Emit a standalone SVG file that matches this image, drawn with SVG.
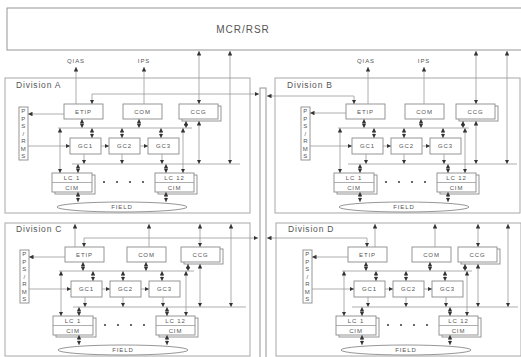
<svg xmlns="http://www.w3.org/2000/svg" width="521" height="357" viewBox="0 0 521 357">
<defs>
<marker id="ah" viewBox="0 0 5 5" refX="5" refY="2.5" markerWidth="4.5" markerHeight="4.5" markerUnits="userSpaceOnUse" orient="auto-start-reverse"><path d="M0,0 L5,2.5 L0,5 z" fill="#333"/></marker>
<style>
.bg{fill:#fff}
.box{fill:#fff;stroke:#8a8a8a;stroke-width:0.9}
.div{fill:none;stroke:#a8a8a8;stroke-width:1}
.ln{fill:none;stroke:#999;stroke-width:0.8}
.b{marker-start:url(#ah);marker-end:url(#ah)}
.e{marker-end:url(#ah)}
.t{font-family:"Liberation Sans",Arial,sans-serif;fill:#555}
.nt{font-size:6px;letter-spacing:0.9px;text-anchor:middle}
.lbl{font-size:8.5px;letter-spacing:0.8px}
.mcr{font-size:10px;letter-spacing:1px;text-anchor:middle}
.dot{fill:#444}
</style>
</defs>
<rect class="bg" x="0" y="0" width="521" height="357"/>

<!-- MCR/RSR -->
<g id="mcr">
<rect class="box" x="7" y="8" width="520" height="42"/>
<text class="t mcr" x="243" y="33">MCR/RSR</text>
</g>

<!-- central bus -->
<g id="bus">
<rect class="box" x="260" y="88" width="6" height="275"/>
</g>

<!-- division frames -->
<g id="divA"><rect class="div" x="5" y="78" width="245" height="135"/><text class="t lbl" x="16" y="88">Division A</text></g>
<g id="divB"><rect class="div" x="275" y="78" width="245" height="135"/><text class="t lbl" x="287" y="88">Division B</text></g>
<g id="divC"><rect class="div" x="5" y="223" width="245" height="133"/><text class="t lbl" x="16" y="232">Division C</text></g>
<g id="divD"><rect class="div" x="276" y="223" width="245" height="133"/><text class="t lbl" x="288" y="232">Division D</text></g>

<!-- external labels -->
<text class="t nt" x="76" y="63">QIAS</text>
<text class="t nt" x="144" y="63">IPS</text>
<text class="t nt" x="366" y="63">QIAS</text>
<text class="t nt" x="424" y="63">IPS</text>

<!-- ===== Division A nodes ===== -->
<g transform="translate(0,0)">
<g id="A-etip"><rect class="box" x="64" y="104" width="39" height="15"/><text class="t nt" x="83.5" y="113.8">ETIP</text></g>
<g id="A-com"><rect class="box" x="123" y="104" width="39" height="15"/><text class="t nt" x="142.5" y="113.8">COM</text></g>
<g id="A-pps"><rect class="box" x="19" y="107" width="9" height="53"/><text class="t nt" x="23.8"><tspan x="23.8" y="113">P</tspan><tspan x="23.8" y="120.5">P</tspan><tspan x="23.8" y="128">S</tspan><tspan x="23.8" y="135.5">/</tspan><tspan x="23.8" y="143">R</tspan><tspan x="23.8" y="150.5">M</tspan><tspan x="23.8" y="158">S</tspan></text></g>
<g id="A-gc1"><rect class="box" x="70" y="138" width="31" height="16"/><text class="t nt" x="85.5" y="148.2">GC1</text></g>
<g id="A-gc2"><rect class="box" x="109" y="138" width="31" height="16"/><text class="t nt" x="124.5" y="148.2">GC2</text></g>
<g id="A-gc3"><rect class="box" x="148" y="138" width="31" height="16"/><text class="t nt" x="163.5" y="148.2">GC3</text></g>
<g id="A-lc1"><rect class="box" x="55" y="175" width="40" height="19"/><rect class="box" x="52" y="173" width="40" height="19"/><line class="ln" x1="52" y1="182.5" x2="92" y2="182.5"/><text class="t nt" x="72" y="180.3">LC 1</text><text class="t nt" x="72" y="189.8">CIM</text></g>
<g id="A-lc12"><rect class="box" x="158" y="175" width="39" height="19"/><rect class="box" x="155" y="173" width="39" height="19"/><line class="ln" x1="155" y1="182.5" x2="194" y2="182.5"/><text class="t nt" x="174.5" y="180.3">LC 12</text><text class="t nt" x="174.5" y="189.8">CIM</text></g>
<g id="A-field"><ellipse class="box" cx="122" cy="207" rx="65" ry="5"/><text class="t nt" x="122" y="209.2">FIELD</text></g>
<g id="A-dots"><circle class="dot" cx="104" cy="182" r="1.1"/><circle class="dot" cx="117" cy="182" r="1.1"/><circle class="dot" cx="130" cy="182" r="1.1"/><circle class="dot" cx="143" cy="182" r="1.1"/></g>
</g>
<g transform="translate(0,0)">
<g id="A-ccg"><rect class="box" x="182" y="106" width="39" height="15"/><rect class="box" x="179" y="104" width="39" height="15"/><text class="t nt" x="198.5" y="113.8">CCG</text></g>
</g>

<!-- ===== Division B nodes ===== -->
<g transform="translate(282,0)">
<g id="B-etip"><rect class="box" x="64" y="104" width="39" height="15"/><text class="t nt" x="83.5" y="113.8">ETIP</text></g>
<g id="B-com"><rect class="box" x="123" y="104" width="39" height="15"/><text class="t nt" x="142.5" y="113.8">COM</text></g>
<g id="B-pps"><rect class="box" x="19" y="107" width="9" height="53"/><text class="t nt" x="23.8"><tspan x="23.8" y="113">P</tspan><tspan x="23.8" y="120.5">P</tspan><tspan x="23.8" y="128">S</tspan><tspan x="23.8" y="135.5">/</tspan><tspan x="23.8" y="143">R</tspan><tspan x="23.8" y="150.5">M</tspan><tspan x="23.8" y="158">S</tspan></text></g>
<g id="B-gc1"><rect class="box" x="70" y="138" width="31" height="16"/><text class="t nt" x="85.5" y="148.2">GC1</text></g>
<g id="B-gc2"><rect class="box" x="109" y="138" width="31" height="16"/><text class="t nt" x="124.5" y="148.2">GC2</text></g>
<g id="B-gc3"><rect class="box" x="148" y="138" width="31" height="16"/><text class="t nt" x="163.5" y="148.2">GC3</text></g>
<g id="B-lc1"><rect class="box" x="55" y="175" width="40" height="19"/><rect class="box" x="52" y="173" width="40" height="19"/><line class="ln" x1="52" y1="182.5" x2="92" y2="182.5"/><text class="t nt" x="72" y="180.3">LC 1</text><text class="t nt" x="72" y="189.8">CIM</text></g>
<g id="B-lc12"><rect class="box" x="158" y="175" width="39" height="19"/><rect class="box" x="155" y="173" width="39" height="19"/><line class="ln" x1="155" y1="182.5" x2="194" y2="182.5"/><text class="t nt" x="174.5" y="180.3">LC 12</text><text class="t nt" x="174.5" y="189.8">CIM</text></g>
<g id="B-field"><ellipse class="box" cx="122" cy="207" rx="65" ry="5"/><text class="t nt" x="122" y="209.2">FIELD</text></g>
<g id="B-dots"><circle class="dot" cx="104" cy="182" r="1.1"/><circle class="dot" cx="117" cy="182" r="1.1"/><circle class="dot" cx="130" cy="182" r="1.1"/><circle class="dot" cx="143" cy="182" r="1.1"/></g>
</g>
<g transform="translate(277,0)">
<g id="B-ccg"><rect class="box" x="182" y="106" width="39" height="15"/><rect class="box" x="179" y="104" width="39" height="15"/><text class="t nt" x="198.5" y="113.8">CCG</text></g>
</g>

<!-- ===== Division C nodes ===== -->
<g transform="translate(1,143)">
<g id="C-etip"><rect class="box" x="64" y="104" width="39" height="15"/><text class="t nt" x="83.5" y="113.8">ETIP</text></g>
<g id="C-com"><rect class="box" x="126" y="104" width="39" height="15"/><text class="t nt" x="145.5" y="113.8">COM</text></g>
<g id="C-pps"><rect class="box" x="19" y="107" width="9" height="53"/><text class="t nt" x="23.8"><tspan x="23.8" y="113">P</tspan><tspan x="23.8" y="120.5">P</tspan><tspan x="23.8" y="128">S</tspan><tspan x="23.8" y="135.5">/</tspan><tspan x="23.8" y="143">R</tspan><tspan x="23.8" y="150.5">M</tspan><tspan x="23.8" y="158">S</tspan></text></g>
<g id="C-gc1"><rect class="box" x="70" y="138" width="31" height="16"/><text class="t nt" x="85.5" y="148.2">GC1</text></g>
<g id="C-gc2"><rect class="box" x="109" y="138" width="31" height="16"/><text class="t nt" x="124.5" y="148.2">GC2</text></g>
<g id="C-gc3"><rect class="box" x="148" y="138" width="31" height="16"/><text class="t nt" x="163.5" y="148.2">GC3</text></g>
<g id="C-lc1"><rect class="box" x="55" y="175" width="40" height="19"/><rect class="box" x="52" y="173" width="40" height="19"/><line class="ln" x1="52" y1="182.5" x2="92" y2="182.5"/><text class="t nt" x="72" y="180.3">LC 1</text><text class="t nt" x="72" y="189.8">CIM</text></g>
<g id="C-lc12"><rect class="box" x="158" y="175" width="39" height="19"/><rect class="box" x="155" y="173" width="39" height="19"/><line class="ln" x1="155" y1="182.5" x2="194" y2="182.5"/><text class="t nt" x="174.5" y="180.3">LC 12</text><text class="t nt" x="174.5" y="189.8">CIM</text></g>
<g id="C-field"><ellipse class="box" cx="122" cy="207" rx="65" ry="5"/><text class="t nt" x="122" y="209.2">FIELD</text></g>
<g id="C-dots"><circle class="dot" cx="104" cy="182" r="1.1"/><circle class="dot" cx="117" cy="182" r="1.1"/><circle class="dot" cx="130" cy="182" r="1.1"/><circle class="dot" cx="143" cy="182" r="1.1"/></g>
</g>
<g transform="translate(2,143)">
<g id="C-ccg"><rect class="box" x="182" y="106" width="39" height="15"/><rect class="box" x="179" y="104" width="39" height="15"/><text class="t nt" x="198.5" y="113.8">CCG</text></g>
</g>

<!-- ===== Division D nodes ===== -->
<g transform="translate(284,143)">
<g id="D-etip"><rect class="box" x="64" y="104" width="39" height="15"/><text class="t nt" x="83.5" y="113.8">ETIP</text></g>
<g id="D-com"><rect class="box" x="128" y="104" width="39" height="15"/><text class="t nt" x="147.5" y="113.8">COM</text></g>
<g id="D-pps"><rect class="box" x="19" y="107" width="9" height="53"/><text class="t nt" x="23.8"><tspan x="23.8" y="113">P</tspan><tspan x="23.8" y="120.5">P</tspan><tspan x="23.8" y="128">S</tspan><tspan x="23.8" y="135.5">/</tspan><tspan x="23.8" y="143">R</tspan><tspan x="23.8" y="150.5">M</tspan><tspan x="23.8" y="158">S</tspan></text></g>
<g id="D-gc1"><rect class="box" x="70" y="138" width="31" height="16"/><text class="t nt" x="85.5" y="148.2">GC1</text></g>
<g id="D-gc2"><rect class="box" x="109" y="138" width="31" height="16"/><text class="t nt" x="124.5" y="148.2">GC2</text></g>
<g id="D-gc3"><rect class="box" x="148" y="138" width="31" height="16"/><text class="t nt" x="163.5" y="148.2">GC3</text></g>
<g id="D-lc1"><rect class="box" x="55" y="175" width="40" height="19"/><rect class="box" x="52" y="173" width="40" height="19"/><line class="ln" x1="52" y1="182.5" x2="92" y2="182.5"/><text class="t nt" x="72" y="180.3">LC 1</text><text class="t nt" x="72" y="189.8">CIM</text></g>
<g id="D-lc12"><rect class="box" x="158" y="175" width="39" height="19"/><rect class="box" x="155" y="173" width="39" height="19"/><line class="ln" x1="155" y1="182.5" x2="194" y2="182.5"/><text class="t nt" x="174.5" y="180.3">LC 12</text><text class="t nt" x="174.5" y="189.8">CIM</text></g>
<g id="D-field"><ellipse class="box" cx="122" cy="207" rx="65" ry="5"/><text class="t nt" x="122" y="209.2">FIELD</text></g>
<g id="D-dots"><circle class="dot" cx="104" cy="182" r="1.1"/><circle class="dot" cx="117" cy="182" r="1.1"/><circle class="dot" cx="130" cy="182" r="1.1"/><circle class="dot" cx="143" cy="182" r="1.1"/></g>
</g>
<g transform="translate(279,143)">
<g id="D-ccg"><rect class="box" x="182" y="106" width="39" height="15"/><rect class="box" x="179" y="104" width="39" height="15"/><text class="t nt" x="198.5" y="113.8">CCG</text></g>
</g>

<!-- ===== connectors ===== -->
<g id="connectors">
<!-- Division A -->
<g transform="translate(0,0)">
<line class="ln e" x1="76" y1="104" x2="76" y2="67"/>
<line class="ln e" x1="144" y1="104" x2="144" y2="67"/>
<polyline class="ln b" points="92,104 92,94 259,94"/>
</g>
<!-- Division B -->
<g>
<line class="ln e" x1="368" y1="104" x2="368" y2="67"/>
<line class="ln e" x1="424" y1="104" x2="424" y2="67"/>
<polyline class="ln b" points="354,104 354,96 267,96"/>
</g>
<!-- Division C -->
<g transform="translate(1,143)">
<line class="ln e" x1="74" y1="104" x2="74" y2="81"/>
<line class="ln e" x1="148" y1="104" x2="148" y2="81"/>
<polyline class="ln b" points="83,104 83,95 257,95"/>
</g>
<!-- Division D -->
<g transform="translate(284,143)">
<line class="ln e" x1="91" y1="104" x2="91" y2="81"/>
<line class="ln e" x1="151" y1="104" x2="151" y2="81"/>
<polyline class="ln b" points="83,104 83,95 -17,95"/>
</g>

<!-- shared internal wiring, main part -->
<g transform="translate(0,0)">
<line class="ln e" x1="64" y1="114" x2="28" y2="114"/>
<line class="ln e" x1="28" y1="146" x2="70" y2="146"/>
<line class="ln e" x1="101" y1="146" x2="109" y2="146"/>
<line class="ln e" x1="140" y1="146" x2="148" y2="146"/>
<line class="ln b" x1="82" y1="119" x2="82" y2="128"/>
<line class="ln b" x1="139" y1="119" x2="139" y2="128"/>
<line class="ln b" x1="92" y1="128" x2="92" y2="138"/>
<line class="ln b" x1="122" y1="128" x2="122" y2="138"/>
<line class="ln b" x1="161" y1="128" x2="161" y2="138"/>
<line class="ln b" x1="60" y1="128" x2="60" y2="173"/>
<line class="ln b" x1="183" y1="128" x2="183" y2="173"/>
<line class="ln e" x1="84" y1="154" x2="84" y2="164"/>
<line class="ln e" x1="122" y1="154" x2="122" y2="164"/>
<line class="ln e" x1="162" y1="154" x2="162" y2="164"/>
<line class="ln b" x1="78" y1="164" x2="78" y2="173"/>
<line class="ln b" x1="166" y1="164" x2="166" y2="173"/>
<line class="ln b" x1="78" y1="192" x2="78" y2="202"/>
<line class="ln b" x1="166" y1="192" x2="166" y2="202"/>
</g>
<g transform="translate(282,0)">
<line class="ln e" x1="64" y1="113" x2="28" y2="113"/>
<line class="ln e" x1="28" y1="146" x2="70" y2="146"/>
<line class="ln e" x1="101" y1="146" x2="109" y2="146"/>
<line class="ln e" x1="140" y1="146" x2="148" y2="146"/>
<line class="ln b" x1="82" y1="119" x2="82" y2="128"/>
<line class="ln b" x1="139" y1="119" x2="139" y2="128"/>
<line class="ln b" x1="92" y1="128" x2="92" y2="138"/>
<line class="ln b" x1="122" y1="128" x2="122" y2="138"/>
<line class="ln b" x1="161" y1="128" x2="161" y2="138"/>
<line class="ln b" x1="58" y1="128" x2="58" y2="173"/>
<line class="ln b" x1="183" y1="128" x2="183" y2="173"/>
<line class="ln e" x1="84" y1="154" x2="84" y2="164"/>
<line class="ln e" x1="122" y1="154" x2="122" y2="164"/>
<line class="ln e" x1="162" y1="154" x2="162" y2="164"/>
<line class="ln b" x1="78" y1="164" x2="78" y2="173"/>
<line class="ln b" x1="166" y1="164" x2="166" y2="173"/>
<line class="ln b" x1="78" y1="192" x2="78" y2="202"/>
<line class="ln b" x1="166" y1="192" x2="166" y2="202"/>
</g>
<g transform="translate(1,143)">
<line class="ln e" x1="64" y1="114" x2="28" y2="114"/>
<line class="ln e" x1="28" y1="146" x2="70" y2="146"/>
<line class="ln e" x1="101" y1="146" x2="109" y2="146"/>
<line class="ln e" x1="140" y1="146" x2="148" y2="146"/>
<line class="ln b" x1="82" y1="119" x2="82" y2="128"/>
<line class="ln b" x1="145" y1="119" x2="145" y2="128"/>
<line class="ln b" x1="92" y1="128" x2="92" y2="138"/>
<line class="ln b" x1="122" y1="128" x2="122" y2="138"/>
<line class="ln b" x1="161" y1="128" x2="161" y2="138"/>
<line class="ln b" x1="60" y1="128" x2="60" y2="173"/>
<line class="ln b" x1="185" y1="128" x2="185" y2="173"/>
<line class="ln e" x1="84" y1="154" x2="84" y2="164"/>
<line class="ln e" x1="122" y1="154" x2="122" y2="164"/>
<line class="ln e" x1="162" y1="154" x2="162" y2="164"/>
<line class="ln b" x1="78" y1="164" x2="78" y2="173"/>
<line class="ln b" x1="166" y1="164" x2="166" y2="173"/>
<line class="ln b" x1="78" y1="192" x2="78" y2="202"/>
<line class="ln b" x1="166" y1="192" x2="166" y2="202"/>
</g>
<g transform="translate(284,143)">
<line class="ln e" x1="64" y1="114" x2="28" y2="114"/>
<line class="ln e" x1="28" y1="146" x2="70" y2="146"/>
<line class="ln e" x1="101" y1="146" x2="109" y2="146"/>
<line class="ln e" x1="140" y1="146" x2="148" y2="146"/>
<line class="ln b" x1="82" y1="119" x2="82" y2="128"/>
<line class="ln b" x1="146" y1="119" x2="146" y2="128"/>
<line class="ln b" x1="92" y1="128" x2="92" y2="138"/>
<line class="ln b" x1="122" y1="128" x2="122" y2="138"/>
<line class="ln b" x1="161" y1="128" x2="161" y2="138"/>
<line class="ln b" x1="60" y1="128" x2="60" y2="173"/>
<line class="ln b" x1="183" y1="128" x2="183" y2="173"/>
<line class="ln e" x1="84" y1="154" x2="84" y2="164"/>
<line class="ln e" x1="122" y1="154" x2="122" y2="164"/>
<line class="ln e" x1="162" y1="154" x2="162" y2="164"/>
<line class="ln b" x1="78" y1="164" x2="78" y2="173"/>
<line class="ln b" x1="166" y1="164" x2="166" y2="173"/>
<line class="ln b" x1="78" y1="192" x2="78" y2="202"/>
<line class="ln b" x1="166" y1="192" x2="166" y2="202"/>
</g>

<!-- right part (CCG side) -->
<g transform="translate(0,0)">
<line class="ln b" x1="186" y1="121" x2="186" y2="128"/>
<line class="ln b" x1="199" y1="51" x2="199" y2="104"/>
<line class="ln b" x1="199" y1="121" x2="199" y2="164"/>
<line class="ln b" x1="230" y1="51" x2="230" y2="164"/>
</g>
<g transform="translate(277,0)">
<line class="ln b" x1="186" y1="121" x2="186" y2="128"/>
<line class="ln b" x1="199" y1="51" x2="199" y2="104"/>
<line class="ln b" x1="199" y1="121" x2="199" y2="164"/>
<line class="ln b" x1="230" y1="51" x2="230" y2="164"/>
</g>
<g transform="translate(2,143)">
<line class="ln b" x1="186" y1="121" x2="186" y2="128"/>
<line class="ln b" x1="198" y1="81" x2="198" y2="104"/>
<line class="ln b" x1="198" y1="121" x2="198" y2="164"/>
<line class="ln b" x1="229" y1="81" x2="229" y2="164"/>
</g>
<g transform="translate(279,143)">
<line class="ln b" x1="186" y1="121" x2="186" y2="128"/>
<line class="ln b" x1="199" y1="81" x2="199" y2="104"/>
<line class="ln b" x1="199" y1="121" x2="199" y2="164"/>
<line class="ln b" x1="229" y1="81" x2="229" y2="164"/>
</g>

<!-- bus bars -->
<line class="ln" x1="58" y1="128" x2="192" y2="128"/>
<line class="ln" x1="72" y1="164" x2="240" y2="164"/>
<line class="ln" x1="338" y1="128" x2="469" y2="128"/>
<line class="ln" x1="348" y1="164" x2="517" y2="164"/>
<line class="ln" x1="59" y1="271" x2="194" y2="271"/>
<line class="ln" x1="73" y1="307" x2="246" y2="307"/>
<line class="ln" x1="342" y1="271" x2="472" y2="271"/>
<line class="ln" x1="352" y1="307" x2="518" y2="307"/>
</g>
</svg>
